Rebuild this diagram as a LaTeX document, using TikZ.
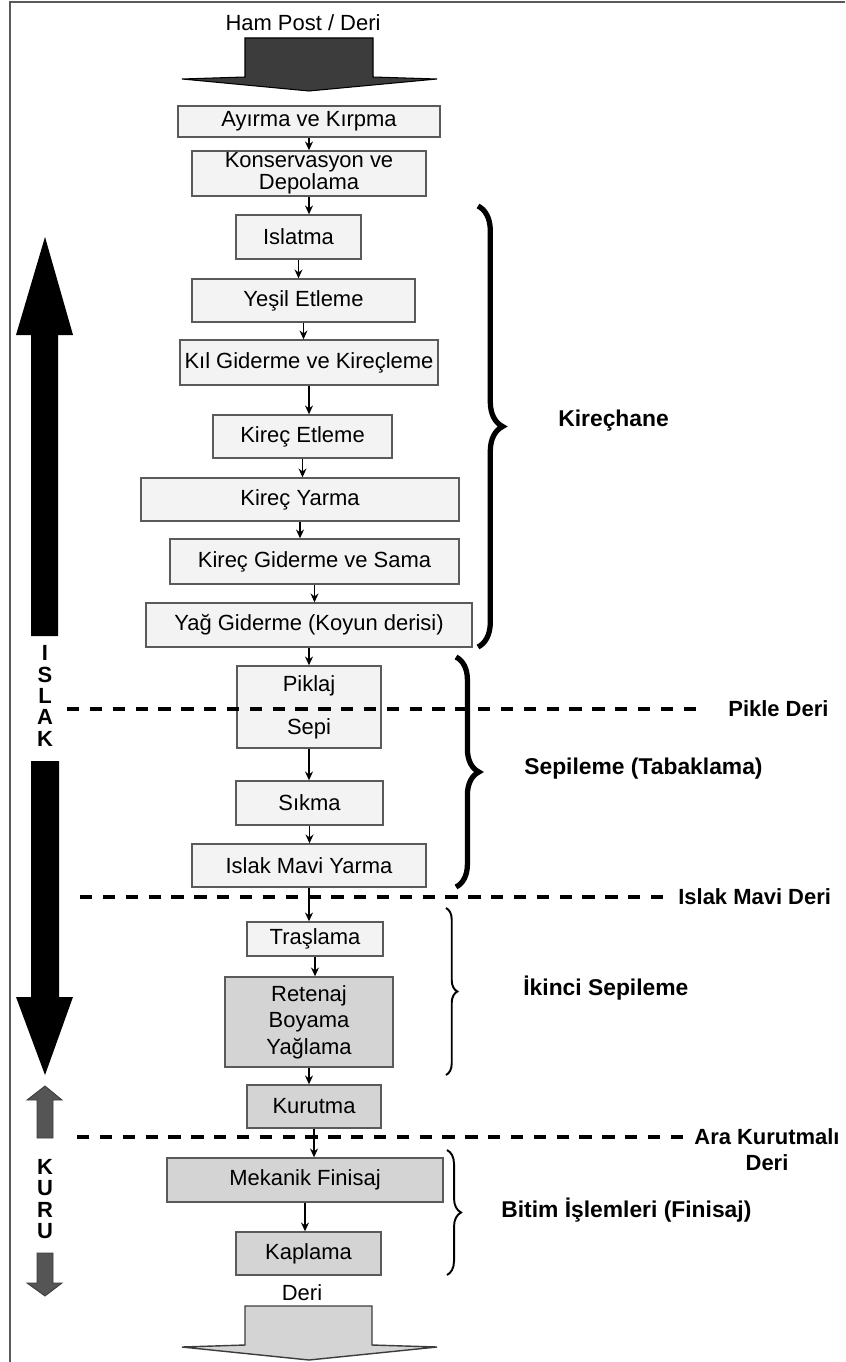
\documentclass[tikz,border=0pt]{standalone}
\usepackage{fontspec}
\setmainfont{Liberation Sans}
\usepackage{tikz}
\usetikzlibrary{arrows.meta}
\usetikzlibrary{decorations.pathreplacing}
\definecolor{lightbox}{RGB}{243, 243, 243}
\definecolor{darkbox}{RGB}{212, 212, 212}
\definecolor{edgegray}{RGB}{90, 90, 90}
\definecolor{arrowgray}{RGB}{85, 85, 85}
\definecolor{headgray}{RGB}{60, 60, 60}

\begin{document}
\begin{tikzpicture}[x = 0.02cm, y = -0.02cm,
			stage/.style = {draw = edgegray, line width = 0.8pt, fill = lightbox, inner sep = 0pt, align = center, font = \fontsize{12.5}{15}\selectfont},
			flow/.style = {-{Stealth[length = 5pt, width = 4.5pt]}, line width = 0.7pt},
			cut/.style = {line width = 2pt, dash pattern = on 7pt off 6pt},
			phase/.style = {anchor = west, inner sep = 0pt, font = \bfseries\fontsize{13}{15}\selectfont},
			level/.style = {inner sep = 0pt, font = \bfseries\fontsize{12.5}{14.7}\selectfont},
			curly/.style = {decorate, decoration = {brace, amplitude = #1}}]
			\useasboundingbox (0,0) rectangle (845,1362);
			\draw[edgegray, line width = 1pt] (10,1362) -- (10,2) -- (845,2);
			% input and output
			\node (hampost) at (303,23) [inner sep = 0pt, font = \fontsize{12.5}{15}\selectfont] {Ham Post / Deri};
			\filldraw[fill = headgray, draw = black, line width = 0.6pt] (245,38) -- (373,38) -- (373,77) -- (437,79) -- (309,91) -- (182,79) -- (245,77) -- cycle;
			\node (deri) at (302,1293) [inner sep = 0pt, font = \fontsize{12.5}{15}\selectfont] {Deri};
			\filldraw[fill = darkbox, draw = headgray, line width = 0.8pt] (245,1306) -- (372,1306) -- (372,1345) -- (437,1347) -- (309,1360) -- (182,1347) -- (245,1345) -- cycle;
			% steps
			\node (ayirma) at (309,121.5) [stage, minimum width = 5.24cm, minimum height = 0.62cm] {Ayırma ve Kırpma};
			\node (konserv) at (309,173.5) [stage, minimum width = 4.68cm, minimum height = 0.9cm] {Konservasyon ve\\[-2.5pt]Depolama};
			\node (islatma) at (298.5,237) [stage, minimum width = 2.5cm, minimum height = 0.88cm] {Islatma};
			\node (yesil) at (303.5,300.5) [stage, minimum width = 4.46cm, minimum height = 0.86cm] {Yeşil Etleme};
			\node (kil) at (309,362.5) [stage, minimum width = 5.16cm, minimum height = 0.9cm] {Kıl Giderme ve Kireçleme};
			\node (kirecet) at (302.5,436.5) [stage, minimum width = 3.58cm, minimum height = 0.86cm] {Kireç Etleme};
			\node (kirecyar) at (300,499.5) [stage, minimum width = 6.36cm, minimum height = 0.86cm] {Kireç Yarma};
			\node (kirecgid) at (314.5,561.5) [stage, minimum width = 5.78cm, minimum height = 0.9cm] {Kireç Giderme ve Sama};
			\node (yag) at (309,625) [stage, minimum width = 6.52cm, minimum height = 0.88cm] {Yağ Giderme (Koyun derisi)};
			\node (piklaj) at (309,707) [stage, minimum width = 2.88cm, minimum height = 1.64cm] {Piklaj\\[9.4pt]Sepi};
			\node (sikma) at (309.5,803) [stage, minimum width = 2.94cm, minimum height = 0.88cm] {Sıkma};
			\node (imyarma) at (309,865.5) [stage, minimum width = 4.68cm, minimum height = 0.86cm] {Islak Mavi Yarma};
			\node (traslama) at (315,939) [stage, minimum width = 2.72cm, minimum height = 0.68cm] {Traşlama};
			\node (retenaj) at (309,1022) [stage, fill = darkbox, minimum width = 3.36cm, minimum height = 1.8cm] {Retenaj\\Boyama\\Yağlama};
			\node (kurutma) at (314,1106.5) [stage, fill = darkbox, minimum width = 2.68cm, minimum height = 0.86cm] {Kurutma};
			\node (mekanik) at (305,1180) [stage, fill = darkbox, minimum width = 5.52cm, minimum height = 0.88cm] {Mekanik Finisaj};
			\node (kaplama) at (308.5,1253.5) [stage, fill = darkbox, minimum width = 2.9cm, minimum height = 0.86cm] {Kaplama};
			\draw[flow] (ayirma) -- (ayirma |- konserv.north);
			\draw[flow] (konserv) -- (konserv |- islatma.north);
			\draw[flow] (islatma) -- (islatma |- yesil.north);
			\draw[flow] (yesil) -- (yesil |- kil.north);
			\draw[flow] (kil) -- (kil |- kirecet.north);
			\draw[flow] (kirecet) -- (kirecet |- kirecyar.north);
			\draw[flow] (kirecyar) -- (kirecyar |- kirecgid.north);
			\draw[flow] (kirecgid) -- (kirecgid |- yag.north);
			\draw[flow] (yag) -- (yag |- piklaj.north);
			\draw[flow] (piklaj) -- (piklaj |- sikma.north);
			\draw[flow] (sikma) -- (sikma |- imyarma.north);
			\draw[flow] (imyarma) -- (imyarma |- traslama.north);
			\draw[flow] (traslama) -- (traslama |- retenaj.north);
			\draw[flow] (retenaj) -- (retenaj |- kurutma.north);
			\draw[flow] (kurutma) -- (kurutma |- mekanik.north);
			\draw[flow] (mekanik) -- (mekanik |- kaplama.north);
			% leather states
			\coordinate (pk0) at (67,709);
			\node (pikle) at (728,709) [level, anchor = west] {Pikle Deri};
			\draw[cut, shorten > = 15pt] (pk0) -- (pikle.west);
			\coordinate (im0) at (80,897);
			\node (imderi) at (678,897) [level, anchor = west] {Islak Mavi Deri};
			\draw[cut, shorten > = 7pt] (im0) -- (imderi.west);
			\coordinate (ak0) at (77,1137);
			\node (akderi) at (767,1150) [level, align = center] {Ara Kurutmalı\\Deri};
			\draw[cut, shorten > = 2pt] (ak0) -- (ak0 -| akderi.west);
			% stages
			\draw[curly = 14pt, line width = 3pt] (478,206) -- (478,647);
			\node (kirechane) at (558,421) [phase] {Kireçhane};
			\draw[curly = 13pt, line width = 3pt] (456,657) -- (456,887);
			\node (sepileme) at (524,769) [phase] {Sepileme (Tabaklama)};
			\draw[curly = 6.5pt, line width = 1.1pt] (446,908) -- (446,1075);
			\node (ikinci) at (523,988) [phase] {İkinci Sepileme};
			\draw[curly = 8pt, line width = 1.1pt] (447,1150) -- (447,1275);
			\node (bitim) at (501,1210) [phase] {Bitim İşlemleri (Finisaj)};
			% wet and dry
			\fill (45,237) -- (73,335) -- (58,335) -- (58,636) -- (31,636) -- (31,335) -- (16,335) -- cycle;
			\node (islak) at (45,696) [align = center, inner sep = 0pt, font = \bfseries\fontsize{12.5}{12.2}\selectfont] {I\\S\\L\\A\\K};
			\fill (31,761) -- (59,761) -- (59,997) -- (73,997) -- (45,1075) -- (16,997) -- (31,997) -- cycle;
			\filldraw[fill = arrowgray, draw = headgray, line width = 0.5pt] (45,1086) -- (62,1100) -- (53,1100) -- (53,1138) -- (37,1138) -- (37,1100) -- (27,1100) -- cycle;
			\node (kuru) at (45,1199) [align = center, inner sep = 0pt, font = \bfseries\fontsize{12.5}{12}\selectfont] {K\\U\\R\\U};
			\filldraw[fill = arrowgray, draw = headgray, line width = 0.5pt] (37,1253) -- (53,1253) -- (53,1283) -- (62,1283) -- (45,1296) -- (27,1283) -- (37,1283) -- cycle;
			\end{tikzpicture}
\end{document}
